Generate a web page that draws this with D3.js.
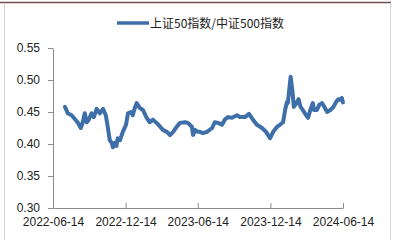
<!DOCTYPE html>
<html>
<head>
<meta charset="utf-8">
<script src="https://cdn.jsdelivr.net/npm/d3@7"></script>
<style>
  body { margin: 0; background: #fff; }
  text { font-family: 'Liberation Sans', Arial, sans-serif; }
</style>
</head>
<body>
<div id="chart"></div>
<script>
const seriesName = '上证50指数/中证500指数'

const dates = [
  '2022-07-14', '2022-07-18', '2022-07-21', '2022-07-31', '2022-08-08', '2022-08-16', '2022-08-23', '2022-08-28',
  '2022-09-02', '2022-09-07', '2022-09-12', '2022-09-19', '2022-09-25', '2022-10-02', '2022-10-10', '2022-10-18',
  '2022-10-25', '2022-10-30', '2022-11-04', '2022-11-09', '2022-11-12', '2022-11-17', '2022-11-21', '2022-11-24',
  '2022-11-30', '2022-12-07', '2022-12-15', '2022-12-20', '2022-12-27', '2023-01-01', '2023-01-06', '2023-01-11',
  '2023-01-19', '2023-01-27', '2023-02-05', '2023-02-13', '2023-02-21', '2023-03-02', '2023-03-11', '2023-03-18',
  '2023-03-28', '2023-04-05', '2023-04-13', '2023-04-22', '2023-04-30', '2023-05-13', '2023-05-20', '2023-05-30',
  '2023-06-02', '2023-06-07', '2023-06-14', '2023-06-19', '2023-06-27', '2023-07-07', '2023-07-20', '2023-07-27',
  '2023-08-04', '2023-08-14', '2023-08-21', '2023-08-29', '2023-09-08', '2023-09-21', '2023-09-28', '2023-10-11',
  '2023-10-21', '2023-10-31', '2023-11-10', '2023-11-23', '2023-12-03', '2023-12-13', '2023-12-21', '2023-12-31',
  '2024-01-07', '2024-01-15', '2024-01-20', '2024-01-25', '2024-01-27', '2024-02-03', '2024-02-08', '2024-02-11',
  '2024-02-18', '2024-02-23', '2024-02-28', '2024-03-05', '2024-03-13', '2024-03-18', '2024-03-25', '2024-03-30',
  '2024-04-02', '2024-04-09', '2024-04-15', '2024-04-22', '2024-04-28', '2024-05-05', '2024-05-13', '2024-05-21',
  '2024-05-28', '2024-06-02', '2024-06-07', '2024-06-11', '2024-06-14'
]

const ratio = [
  0.458, 0.453, 0.448, 0.445, 0.439, 0.433, 0.425, 0.434,
  0.448, 0.434, 0.438, 0.448, 0.442, 0.455, 0.448, 0.455,
  0.445, 0.427, 0.406, 0.402, 0.395, 0.402, 0.397, 0.409,
  0.406, 0.419, 0.430, 0.448, 0.450, 0.445, 0.456, 0.464,
  0.456, 0.453, 0.441, 0.434, 0.438, 0.433, 0.427, 0.422,
  0.419, 0.414, 0.419, 0.427, 0.433, 0.434, 0.433, 0.427,
  0.414, 0.422, 0.419, 0.419, 0.417, 0.419, 0.425, 0.434,
  0.433, 0.430, 0.438, 0.442, 0.441, 0.445, 0.442, 0.442,
  0.447, 0.438, 0.430, 0.425, 0.419, 0.409, 0.419, 0.427,
  0.430, 0.434, 0.453, 0.466, 0.464, 0.505, 0.480, 0.458,
  0.464, 0.470, 0.458, 0.453, 0.445, 0.441, 0.456, 0.464,
  0.453, 0.453, 0.461, 0.464, 0.458, 0.450, 0.453, 0.458,
  0.466, 0.470, 0.469, 0.472, 0.465
]

const yTicks = [0.30, 0.35, 0.40, 0.45, 0.50, 0.55]
const xTicks = ['2022-06-14', '2022-12-14', '2023-06-14', '2023-12-14', '2024-06-14']

const width = 399
const height = 240
const parse = d3.timeParse('%Y-%m-%d')
const data = dates.map((d, i) => ({ date: parse(d), value: ratio[i] }))

const svg = d3.select('#chart').append('svg')
  .attr('width', width)
  .attr('height', height)

// frame
svg.append('line')
  .attr('x1', 0).attr('x2', 391).attr('y1', 2.5).attr('y2', 2.5)
  .attr('stroke', '#6e4f4f').attr('stroke-width', 1.5)
svg.append('line')
  .attr('x1', 4.5).attr('x2', 4.5).attr('y1', 3).attr('y2', 240)
  .attr('stroke', '#d6d6d6')
svg.append('line')
  .attr('x1', 390.5).attr('x2', 390.5).attr('y1', 3).attr('y2', 240)
  .attr('stroke', '#d6d6d6')

const x = d3.scaleTime()
  .domain([parse(xTicks[0]), parse(xTicks[xTicks.length - 1])])
  .range([53, 343])

const y = d3.scaleLinear()
  .domain([0.30, 0.55])
  .range([208, 48])

// y axis
const yAxis = svg.append('g')
  .attr('transform', 'translate(53,0)')
  .call(d3.axisLeft(y).tickValues(yTicks).tickFormat(d3.format('.2f')).tickSize(5).tickSizeOuter(0).tickPadding(8))
yAxis.selectAll('path, line').attr('stroke', '#8c8c8c')
yAxis.selectAll('text').attr('font-size', 12).attr('fill', '#222')
  .style('font-family', "'Liberation Sans', Arial, sans-serif")

// x axis (ticks point up)
const xAxis = svg.append('g')
  .attr('transform', 'translate(0,208)')
  .call(d3.axisBottom(x).tickValues(xTicks.map(parse)).tickFormat(d3.timeFormat('%Y-%m-%d')).tickSizeInner(-5).tickSizeOuter(0).tickPadding(9))
xAxis.selectAll('path, line').attr('stroke', '#8c8c8c')
xAxis.selectAll('text').attr('font-size', 12).attr('fill', '#222')
  .style('font-family', "'Liberation Sans', Arial, sans-serif")

// series
const line = d3.line()
  .x(d => x(d.date))
  .y(d => y(d.value))

svg.append('path')
  .datum(data)
  .attr('fill', 'none')
  .attr('stroke', '#3e6fa9')
  .attr('stroke-width', 4)
  .attr('stroke-linejoin', 'round')
  .attr('stroke-linecap', 'round')
  .attr('d', line)

// legend
svg.append('line')
  .attr('x1', 117).attr('x2', 149).attr('y1', 23).attr('y2', 23)
  .attr('stroke', '#3e6fa9').attr('stroke-width', 3.5)
svg.append('text')
  .attr('x', 150)
  .attr('y', 27.5)
  .attr('font-size', 12)
  .attr('fill', '#222')
  .style('font-family', "'Noto Sans CJK SC', sans-serif")
  .text(seriesName)
</script>
</body>
</html>
